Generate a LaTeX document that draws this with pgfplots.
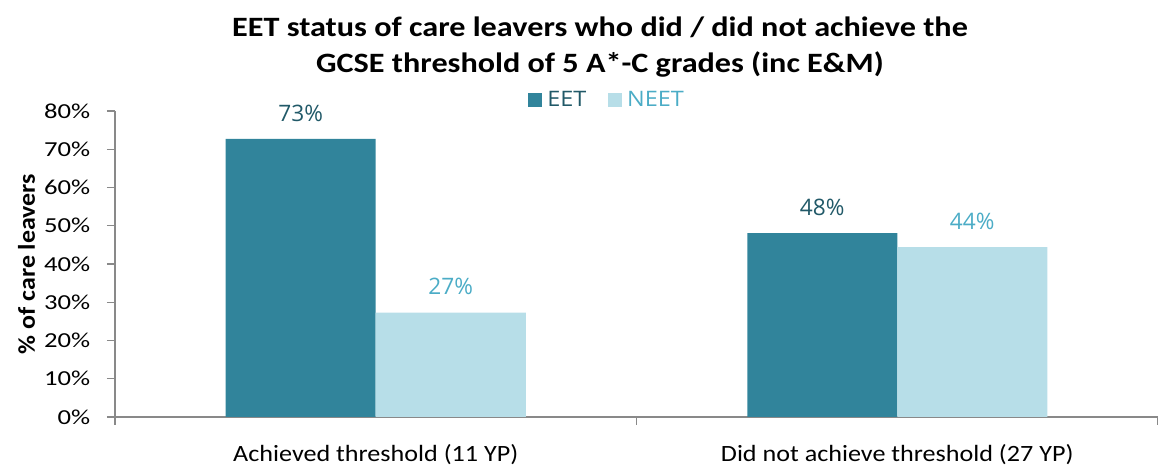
\documentclass[border=0pt]{standalone}
\usepackage{pgfplots}
\pgfplotsset{compat=1.18}
\usepackage{fontspec}
\setmainfont{Carlito}
\newfontfamily\xlabfont[FakeStretch=1.12]{Carlito}
\newfontfamily\wideyfont[FakeStretch=1.25]{Carlito}
\newfontfamily\ylabfont[FakeStretch=1.08]{Carlito}
\newfontfamily\titlefont[FakeStretch=1.15]{Carlito}
\newfontfamily\osfont{Open Sans}
\newfontfamily\oslegfont[FakeStretch=1.1]{Open Sans}
\definecolor{eet}{HTML}{31849B}
\definecolor{neet}{HTML}{B7DEE8}
\definecolor{eettext}{HTML}{215968}
\definecolor{neettext}{HTML}{4BACC6}
\definecolor{axisgray}{HTML}{898989}
\begin{document}
\begin{tikzpicture}
\path[use as bounding box] (-86.25pt,-37.5pt) rectangle (782.25pt,312.75pt);
\begin{axis}[
  scale only axis,
  width=782.25pt, height=229.5pt,
  xmin=-0.5, xmax=1.5,
  ymin=0, ymax=80,
  axis x line*=bottom, axis y line*=left,
  axis line style={axisgray, line width=1pt},
  xtick={0,1},
  xticklabels={Achieved threshold (11 YP), Did not achieve threshold (27 YP)},
  minor xtick={-0.5,0.5,1.5},
  major x tick style={draw=none},
  minor x tick style={axisgray, line width=1pt},
  minor tick length=6pt,
  ytick={0,10,...,80},
  major tick length=6pt,
  y tick style={axisgray, line width=1pt},
  tick align=outside,
  yticklabel={\wideyfont\pgfmathprintnumber[assume math mode=true]{\tick}\%},
  yticklabel style={font=\fontsize{16}{19}\selectfont, black, xshift=-9pt},
  xticklabel style={font=\fontsize{17.5}{21}\selectfont\xlabfont, black, yshift=-11pt},
  ylabel={\ylabfont\bfseries \% of care leavers},
  ylabel style={font=\fontsize{18}{22}\selectfont, black, yshift=0pt},
  ybar=0pt, bar width=112.5pt,
  legend style={draw=none, fill=none, at={(0.472,1.036)}, anchor=center,
    legend columns=2, font=\fontsize{16}{19}\selectfont\oslegfont,
    /tikz/every even column/.append style={column sep=14pt},
    /tikz/every odd column/.append style={column sep=0pt}},
  legend image code/.code={\fill[#1] (-1pt,-5pt) rectangle (9.5pt,5pt);},
  nodes near coords style={font=\fontsize{17}{20}\selectfont\osfont, anchor=south, inner sep=0pt, yshift=13pt},
  point meta=explicit symbolic,
  clip=false,
]
\addplot[fill=eet, draw=none, nodes near coords, nodes near coords style={text=eettext}]
  coordinates {(0,72.7) [73\%] (1,48.1) [48\%]};
\addlegendentry{\textcolor{eettext}{\hspace{2pt}EET}}
\addplot[fill=neet, draw=none, nodes near coords, nodes near coords style={text=neettext}]
  coordinates {(0,27.3) [27\%] (1,44.4) [44\%]};
\addlegendentry{\textcolor{neettext}{\hspace{2pt}NEET}}
\node[font=\fontsize{21}{27}\selectfont\titlefont\bfseries, align=center, anchor=south]
  at (rel axis cs:0.465,1) [yshift=22pt] {EET status of care leavers who did / did not achieve the\\GCSE threshold of 5 A*-C grades (inc E\&M)};
\end{axis}
\end{tikzpicture}
\end{document}
